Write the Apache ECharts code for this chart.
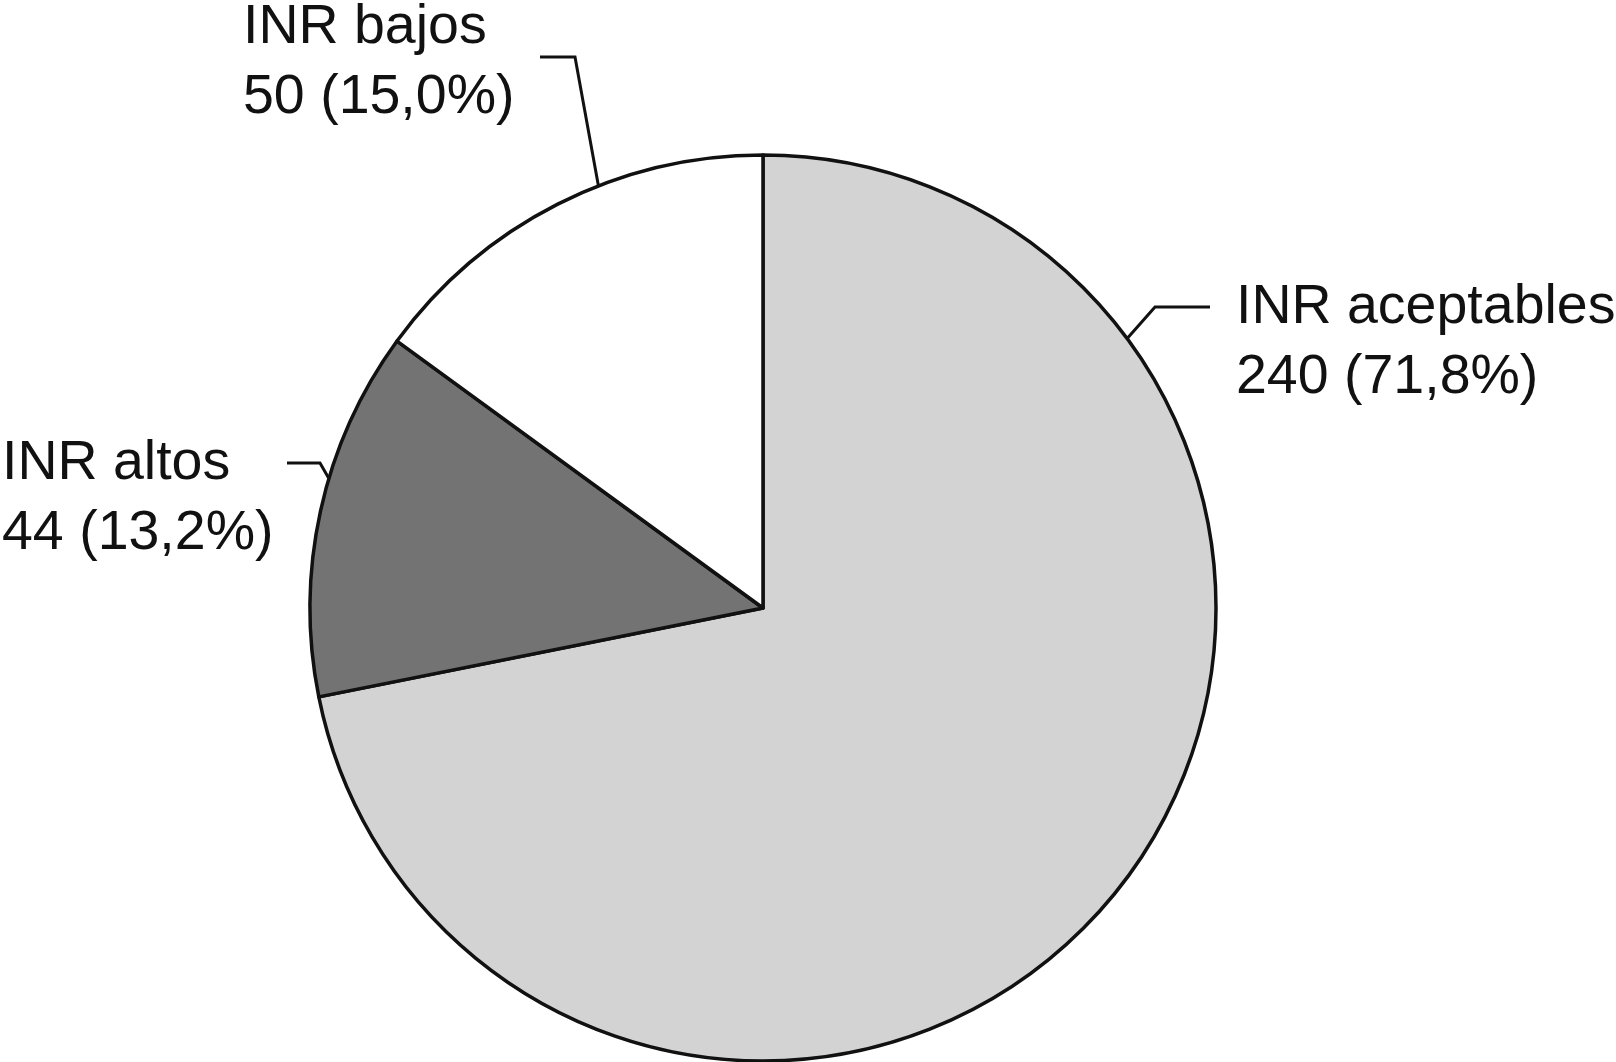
<!DOCTYPE html>
<html>
<head>
<meta charset="utf-8">
<style>
html,body{margin:0;padding:0;background:#fff;}
#chart{width:1616px;height:1062px;}
</style>
<script src="https://cdn.jsdelivr.net/npm/echarts@6/dist/echarts.min.js"></script>
</head>
<body>
<div id="chart"></div>
<script>
// ---- data ----
const categories = ['INR aceptables', 'INR altos', 'INR bajos'];
const values = [240, 44, 50];
const colors = ['#d3d3d3', '#737373', '#ffffff'];

// ---- layout (pie geometry and label placement) ----
const CENTER = [763, 608];
const RADIUS = 453;
const labelPlacement = [
  { angle: 53.5,  elbow: [1155, 307], end: [1210, 307], text: [1236, 273] },
  { angle: 286.6, elbow: [320, 463],  end: [287, 463],  text: [2, 429] },
  { angle: 338.7, elbow: [575, 57],   end: [540, 57],   text: [243, -7] }
];

const chart = echarts.init(document.getElementById('chart'), null, { renderer: 'canvas' });

const data = categories.map((name, i) => ({
  name: name,
  value: values[i],
  itemStyle: { color: colors[i] }
}));

chart.setOption({
  animation: false,
  backgroundColor: '#ffffff',
  series: [{
    type: 'pie',
    center: CENTER,
    radius: RADIUS,
    startAngle: 90,
    clockwise: true,
    percentPrecision: 1,
    silent: true,
    data: data,
    itemStyle: { borderColor: '#111111', borderWidth: 3.5 },
    label: {
      show: true,
      position: 'outer',
      alignTo: 'none',
      overflow: 'none',
      width: 600,
      color: '#111111',
      fontFamily: '"Liberation Sans", Arial, sans-serif',
      fontSize: 55.5,
      lineHeight: 70,
      align: 'left',
      formatter: function (p) {
        return p.name + '\n' + p.value + ' (' + p.percent.toFixed(1).replace('.', ',') + '%)';
      }
    },
    labelLine: {
      show: true,
      lineStyle: { color: '#111111', width: 3 }
    },
    labelLayout: function (params) {
      const lp = labelPlacement[params.dataIndex];
      const a = lp.angle * Math.PI / 180;
      const edge = [CENTER[0] + RADIUS * Math.sin(a), CENTER[1] - RADIUS * Math.cos(a)];
      return {
        x: lp.text[0],
        y: lp.text[1],
        align: 'left',
        verticalAlign: 'top',
        labelLinePoints: [edge, lp.elbow, lp.end]
      };
    }
  }]
});
</script>
</body>
</html>
